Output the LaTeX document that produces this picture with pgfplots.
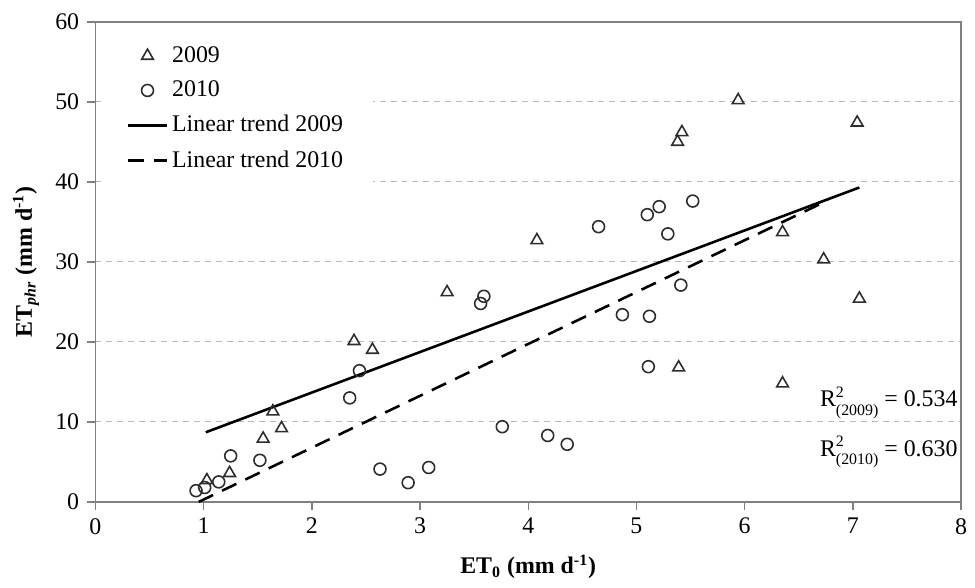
\documentclass[12pt,border=0pt]{standalone}
\usepackage{fontspec}
\setmainfont{Liberation Serif}
\usepackage{pgfplots}
\pgfplotsset{compat=1.18}
\usetikzlibrary{calc}
\definecolor{axisgray}{RGB}{128,128,128}
\definecolor{gridgray}{RGB}{185,185,185}
\definecolor{markgray}{RGB}{45,45,45}

\newcommand{\rsq}[1]{R\rlap{\raisebox{0.85ex}{\scriptsize 2}}\raisebox{-0.8ex}{\scriptsize (#1)}}

\begin{document}
\begin{tikzpicture}
\begin{axis}[
  name=ax,
  scale only axis,
  width=435.5pt, height=241.5pt,
  xmin=0, xmax=8, ymin=0, ymax=60,
  xtick={0,1,...,8}, ytick={0,10,...,60},
  tick align=outside,
  major tick length=4pt,
  xtick pos=bottom, ytick pos=left,
  axis line style={draw=axisgray, line width=0.9pt},
  tick style={draw=axisgray, line width=0.7pt},
  ymajorgrids,
  major grid style={draw=gridgray, dash pattern=on 3pt off 2.5pt, line width=0.6pt},
  /pgf/number format/assume math mode=true,
  tick label style={font=\normalsize},
  xlabel={\textbf{ET\textsubscript{0} (mm d\textsuperscript{-1})}},
  ylabel={\textbf{ET\textsubscript{\textit{phr}} (mm d\textsuperscript{-1})}},
  label style={font=\normalsize},
  xlabel style={yshift=-2pt},
  legend image code/.code={\draw[mark repeat=2,mark phase=2,#1] plot coordinates {(0pt,0pt) (9.75pt,0pt) (19.5pt,0pt)};},
  legend cell align=left,
  legend style={
    at={(rel axis cs:0.006,0.975)}, anchor=north west,
    draw=none, fill=white, font=\normalsize,
    row sep=3.6pt, inner xsep=13pt, inner ysep=4pt
  },
  clip=false
]

% 2009 observations
\addplot[only marks, mark=triangle, mark size=3.4pt,
  mark options={draw=markgray, line width=0.8pt, fill=none}] coordinates {
  (1.03,2.7) (1.24,3.6) (1.55,7.9) (1.64,11.3) (1.72,9.2) (2.39,20.1)
  (2.56,19.0) (3.25,26.2) (4.08,32.7) (5.38,45.0) (5.42,46.2) (5.94,50.2)
  (5.39,16.8) (6.35,33.7) (6.35,14.8) (6.73,30.3) (7.04,47.4) (7.06,25.4)
};
\addlegendentry{2009}

% 2010 observations
\addplot[only marks, mark=o, mark size=3pt,
  mark options={draw=markgray, line width=0.8pt, fill=none}] coordinates {
  (0.93,1.4) (1.01,1.8) (1.14,2.5) (1.25,5.75) (1.52,5.2) (2.35,13.0)
  (2.44,16.4) (2.63,4.1) (2.89,2.4) (3.08,4.3) (3.56,24.8) (3.59,25.7)
  (3.76,9.4) (4.18,8.3) (4.36,7.2) (4.65,34.4) (4.87,23.4) (5.10,35.9)
  (5.11,16.9) (5.12,23.2) (5.21,36.9) (5.29,33.5) (5.41,27.1) (5.52,37.6)
};
\addlegendentry{2010}

\addplot[black, line width=1.3pt] coordinates {(1.02,8.7) (7.06,39.3)};
\addlegendentry{Linear trend 2009}

\addplot[black, line width=1.3pt, dash pattern=on 8pt off 5pt] coordinates {(0.955,0) (6.77,37.7)};
\addlegendentry{Linear trend 2010}

\node[anchor=east, inner sep=0pt] at (axis cs:7.97,12.4) {\rsq{2009} = 0.534};
\node[anchor=east, inner sep=0pt] at (axis cs:7.97,6.2) {\rsq{2010} = 0.630};

\end{axis}
\path ($(ax.south west)+(-48pt,-43pt)$) rectangle ($(ax.north east)+(4pt,11pt)$);
\end{tikzpicture}
\end{document}
